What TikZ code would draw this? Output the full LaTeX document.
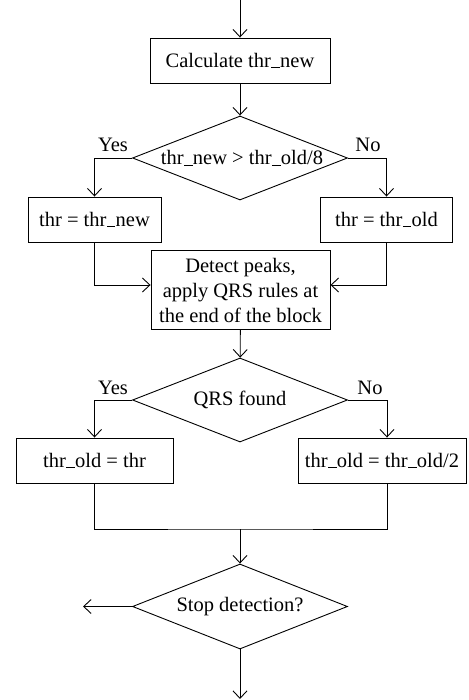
\documentclass[tikz,border=0pt]{standalone}
\usepackage{fontspec}
\setmainfont{Liberation Serif}
\usetikzlibrary{arrows.meta,shapes.geometric}
\newcommand{\usc}{\kern0.3pt\rule[-1.2pt]{0.42em}{0.9pt}\kern0.3pt}
\tikzset{
  arr/.style={-{Straight Barb[length=7.5pt,width=14pt,line width=0.9pt]}},
  procbox/.style={draw,rectangle,inner sep=0pt,minimum height=45pt,align=center},
  decide/.style={draw,diamond,inner sep=0pt,minimum width=215pt,minimum height=84pt},
  lbl/.style={inner sep=0pt}
}
\begin{document}
\begin{tikzpicture}[x=1pt,y=-1pt,line width=0.9pt,font=\fontsize{20.5}{25}\selectfont]
\useasboundingbox (0,0) rectangle (468,700);
\node[procbox,minimum width=180pt] (calc) at (240,60.5) {Calculate thr\usc new};
\node[decide] (d1) at (240,158) {};
\node[lbl] (d1t) at (242,158) {thr\usc new > thr\usc old/8};
\node[procbox,minimum width=133pt] (tnew) at (94.5,219.5) {thr = thr\usc new};
\node[procbox,minimum width=132pt] (told) at (386.5,219.5) {thr = thr\usc old};
\node[procbox,minimum width=179pt,minimum height=79pt] (det) at (240.5,290) {Detect peaks,\\apply QRS rules at\\the end of the block};
\node[decide] (d2) at (240,400) {};
\node[lbl] (d2t) at (240,400) {QRS found};
\node[procbox,minimum width=157pt] (oldthr) at (94.5,460.5) {thr\usc old = thr};
\node[procbox,minimum width=168pt] (oldhalf) at (382,460.5) {thr\usc old = thr\usc old/2};
\node[decide,minimum height=85pt] (d3) at (240,606.5) {};
\node[lbl] (d3t) at (240,606.5) {Stop detection?};
\node[lbl] (y1) at (113,145) {Yes};
\node[lbl] (n1) at (368,145) {No};
\node[lbl] (y2) at (113,388) {Yes};
\node[lbl] (n2) at (370,388) {No};
\coordinate (top) at (240,0);
\coordinate (mrg) at (240,529);
\coordinate (leftend) at (83,606.5);
\coordinate (bot) at (240,699);
\draw[arr] (top) -- (calc);
\draw[arr] (calc) -- (d1);
\draw[arr] (d1.west) -| (tnew.north);
\draw[arr] (d1.east) -| (told.north);
\draw[arr] (tnew.south) |- ([yshift=5pt]det.west);
\draw[arr] (told.south) |- ([yshift=5pt]det.east);
\draw[arr] (det) -- (d2);
\draw[arr] (d2.west) -| (oldthr.north);
\draw[arr] (d2.east) -| ([xshift=5pt]oldhalf.north);
\draw (oldthr.south) |- (mrg) -| ([xshift=5pt]oldhalf.south);
\draw[arr] (mrg) -- (d3);
\draw[arr] (d3.west) -- (leftend);
\draw[arr] (d3.south) -- (bot);
\end{tikzpicture}
\end{document}
